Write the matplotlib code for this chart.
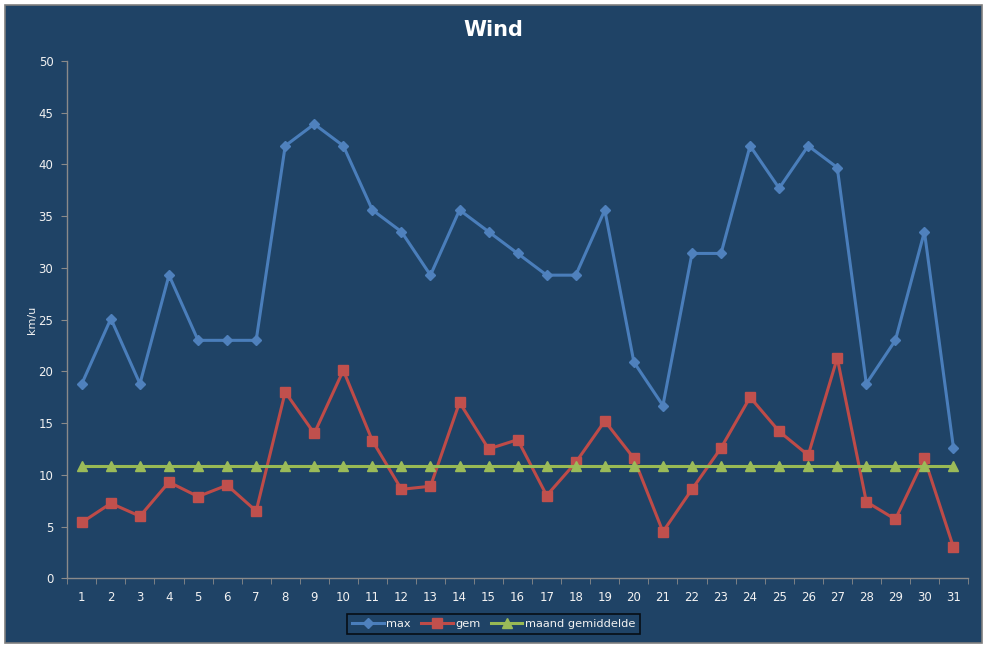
import numpy as np
import matplotlib
matplotlib.use('Agg')
import matplotlib.pyplot as plt
from matplotlib.patches import Rectangle

days = list(range(1, 32))
max_wind = [18.8, 25.1, 18.8, 29.3, 23.0, 23.0, 23.0, 41.8, 43.9, 41.8,
            35.6, 33.5, 29.3, 35.6, 33.5, 31.4, 29.3, 29.3, 35.6, 20.9,
            16.7, 31.4, 31.4, 41.8, 37.7, 41.8, 39.7, 18.8, 23.0, 33.5, 12.6]
gem_wind = [5.4, 7.25, 6.0, 9.3, 7.9, 9.0, 6.5, 18.0, 14.0, 20.1,
            13.3, 8.6, 8.9, 17.0, 12.5, 13.4, 8.0, 11.2, 15.2, 11.6,
            4.5, 8.6, 12.6, 17.5, 14.2, 11.9, 21.3, 7.4, 5.7, 11.6, 3.0]
maand_gem = [10.9] * 31

bg = '#1F4366'
axis_col = '#8A8A8A'
txt = '#F2F2F2'

fig = plt.figure(figsize=(9.87, 6.48), dpi=100, facecolor='white')
fig.patches.append(Rectangle((5 / 987, 5 / 648), 977 / 987, 638 / 648,
                             transform=fig.transFigure, facecolor=bg,
                             edgecolor='#7F7F7F', linewidth=1.2, zorder=-10))

ax = fig.add_axes([67.3 / 987, 1 - 578.3 / 648, 900.7 / 987, 517.3 / 648])
ax.set_zorder(1)
ax.set_facecolor(bg)

ax.plot(days, max_wind, color='#4A7EBB', lw=2.2, marker='D', ms=5,
        mfc='#4F81BD', mec='#4F81BD', label='max', zorder=3)
ax.plot(days, gem_wind, color='#BE4B48', lw=2.2, marker='s', ms=7.5,
        mfc='#C0504D', mec='#C0504D', label='gem', zorder=4)
ax.plot(days, maand_gem, color='#98B954', lw=2.2, marker='^', ms=7,
        mfc='#9BBB59', mec='#9BBB59', label='maand gemiddelde', zorder=5)

ax.set_xlim(0.5, 31.5)
ax.set_ylim(0, 50)
ax.set_yticks(np.arange(0, 51, 5))
ax.set_xticks(days)
ax.set_xticks(np.arange(0.5, 32, 1), minor=True)
ax.tick_params(axis='x', which='major', length=0, pad=9, colors=txt, labelsize=8.5)
ax.tick_params(axis='x', which='minor', length=4, direction='out', color=axis_col)
ax.tick_params(axis='y', length=4, direction='out', color=axis_col, colors=txt,
               labelsize=8.5, pad=6)
ax.tick_params(axis='y', which='major', color=axis_col)

for side in ['top', 'right']:
    ax.spines[side].set_visible(False)
for side in ['left', 'bottom']:
    ax.spines[side].set_color(axis_col)
    ax.spines[side].set_linewidth(1)

ax.set_ylabel('km/u', color=txt, fontsize=8, labelpad=1)
fig.text(493 / 987, 1 - 30 / 648, 'Wind', color='white', fontsize=15,
         fontweight='bold', ha='center', va='center')

leg = fig.legend(loc='center', bbox_to_anchor=(493.5 / 987, 1 - 624 / 648),
                 ncol=3, frameon=True, fontsize=8.2, handlelength=2.8,
                 columnspacing=0.9, handletextpad=0.2, borderpad=0.4)
leg.get_frame().set_facecolor(bg)
leg.get_frame().set_edgecolor('black')
leg.get_frame().set_linewidth(1.2)
leg.get_frame().set_boxstyle('square', pad=0)
for t in leg.get_texts():
    t.set_color(txt)

fig.savefig('out.png', dpi=100, facecolor='white')
